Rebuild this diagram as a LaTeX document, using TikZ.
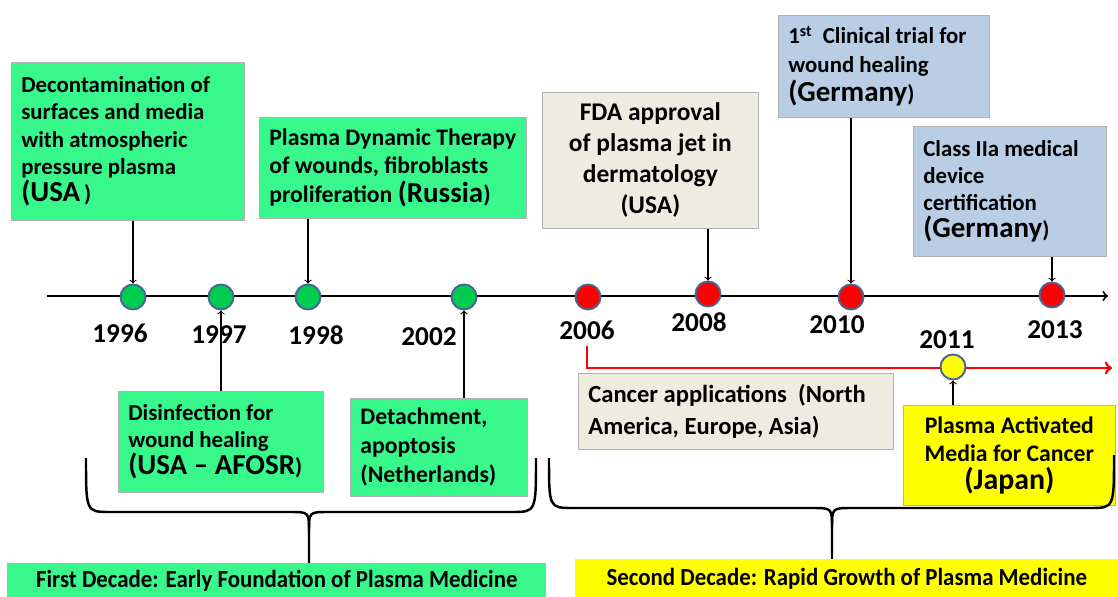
\documentclass[tikz,border=0pt]{standalone}
\usepackage{fontspec}
\setmainfont{Carlito}
\usetikzlibrary{positioning}
\definecolor{evgreen}{RGB}{56,248,140}
\definecolor{dotgreen}{RGB}{0,204,80}
\definecolor{dotedge}{RGB}{70,100,150}
\definecolor{beige}{RGB}{238,236,225}
\definecolor{skyblue}{RGB}{185,205,228}
\definecolor{lemon}{RGB}{255,255,0}
\newcommand{\cty}[1]{{\fontsize{16.5}{19}\selectfont #1}}
\tikzset{
  event/.style={draw=gray!60, anchor=north west, inner xsep=0.2cm, align=flush left,
    font=\fontsize{13}{15.5}\selectfont\bfseries},
  dot/.style={circle, draw=dotedge, line width=1.1pt, minimum size=0.5cm, inner sep=0pt},
  year/.style={font=\fontsize{15.5}{18}\selectfont\bfseries},
  link/.style={semithick, ->},
  brace/.style={line width=1.4pt},
  decade/.style={anchor=north west, inner sep=0pt, font=\fontsize{14}{16}\selectfont\bfseries},
}
\begin{document}
\begin{tikzpicture}[x=0.02cm, y=-0.02cm]
    \useasboundingbox (0,0) rectangle (1118,597);
    % time axis
    \coordinate (t0) at (47,296);
    \coordinate (t1) at (1108,296);
    \draw[line width=1.1pt, ->] (t0) -- (t1);

    % event boxes above the axis
    \node[event, fill=evgreen, minimum width=4.66cm, minimum height=3.16cm, text width=4.26cm] (dec) at (11,62)
        {Decontamination of\\ surfaces and media\\ with atmospheric\\ pressure plasma\\ \cty{(USA}\,)};
    \node[event, fill=evgreen, minimum width=5.34cm, minimum height=2.02cm, text width=4.94cm,
        font=\fontsize{13.5}{16}\selectfont\bfseries] (pdt) at (259,117)
        {Plasma Dynamic Therapy\\ of wounds, fibroblasts\\ proliferation \cty{(Russia})};
    \node[event, fill=beige, minimum width=4.32cm, minimum height=2.72cm, text width=3.92cm, align=flush center,
        font=\fontsize{14.5}{17.6}\selectfont\bfseries] (fda) at (542,92)
        {FDA approval\\ of plasma jet in\\ dermatology\\ (USA)};
    \node[event, fill=skyblue, minimum width=4.22cm, minimum height=2.04cm, text width=3.82cm,
        font=\fontsize{13}{16.5}\selectfont\bfseries] (trial) at (778,15)
        {1\textsuperscript{st}\ \ Clinical trial for\\ wound healing\\ \cty{(Germany})};
    \node[event, fill=skyblue, minimum width=3.86cm, minimum height=2.6cm, text width=3.46cm] (cert) at (913,126)
        {Class IIa medical\\ device\\ certification\\ \cty{(Germany})};

    % event boxes below the axis
    \node[event, fill=evgreen, minimum width=4.1cm, minimum height=2.02cm, text width=3.7cm] (dis) at (118,391)
        {Disinfection for\\ wound healing\\ \cty{(USA -- AFOSR})};
    \node[event, fill=evgreen, minimum width=3.54cm, minimum height=1.96cm, text width=3.14cm,
        font=\fontsize{13.5}{16.5}\selectfont\bfseries] (det) at (350,398)
        {Detachment,\\ apoptosis\\ (Netherlands)};
    \node[event, fill=beige, minimum width=6.3cm, minimum height=1.52cm, text width=5.9cm,
        font=\fontsize{14}{18}\selectfont\bfseries] (can) at (578,373)
        {Cancer applications\ \ (North\\ America, Europe, Asia)};
    \node[event, fill=lemon, minimum width=4.24cm, minimum height=2.0cm, text width=3.84cm, align=flush center,
        font=\fontsize{13.5}{16}\selectfont\bfseries] (pam) at (903,405)
        {Plasma Activated\\ Media for Cancer\\ {\fontsize{17}{20}\selectfont (Japan)}};

    % dots on the axis
    \node[dot, fill=dotgreen] (d96) at (133,297) {};
    \node[dot, fill=dotgreen] (d97) at (221,297) {};
    \node[dot, fill=dotgreen] (d98) at (308,297) {};
    \node[dot, fill=dotgreen] (d02) at (464,297) {};
    \node[dot, fill=red] (d06) at (588,297) {};
    \node[dot, fill=red] (d08) at (708,294) {};
    \node[dot, fill=red] (d10) at (851,297) {};
    \node[dot, fill=red] (d13) at (1052,295) {};

    % years
    \node[year] (y96) at (120,333) {1996};
    \node[year] (y97) at (219,335) {1997};
    \node[year] (y98) at (316,335) {1998};
    \node[year] (y02) at (429,337) {2002};
    \node[year] (y06) at (587,330) {2006};
    \node[year] (y08) at (699,322) {2008};
    \node[year] (y10) at (837,325) {2010};
    \node[year] (y13) at (1055,330) {2013};
    \node[year] (y11) at (947,340) {2011};

    % cancer line
    \coordinate (cend) at (1112,368);
    \draw[red, line width=1.6pt, ->] (y06.south) |- (cend);
    \node[dot, fill=lemon] (d11) at (953,367) {};

    % arrows
    \draw[link] (dec.south -| d96) -- (d96);
    \draw[link] (pdt.south -| d98) -- (d98);
    \draw[link] (fda.south -| d08) -- (d08);
    \draw[link] (trial.south -| d10) -- (d10);
    \draw[link] (cert.south -| d13) -- (d13);
    \draw[link] (dis.north -| d97) -- (d97);
    \draw[link] (det.north -| d02) -- (d02);
    \draw[link] (pam.north -| d11) -- (d11);

    % braces
    \draw[brace] (86,458) .. controls (86,512) .. (110,512) -- (290,512) .. controls (309,512) .. (309,532) -- (309,563);
    \draw[brace] (536,458) .. controls (536,512) .. (512,512) -- (328,512) .. controls (309,512) .. (309,532);
    \draw[brace] (549,458) .. controls (549,508) .. (573,508) -- (812,508) .. controls (832,508) .. (832,528) -- (832,559);
    \draw[brace] (1114,455) .. controls (1114,508) .. (1090,508) -- (852,508) .. controls (832,508) .. (832,528);

    % decades
    \node[decade, fill=evgreen, minimum width=10.78cm, minimum height=0.68cm] (dec1) at (7,563)
        {\scalebox{0.93}[1]{First Decade: Early Foundation of Plasma Medicine}};
    \node[decade, fill=lemon, minimum width=10.86cm, minimum height=0.76cm] (dec2) at (575,559)
        {\scalebox{0.93}[1]{Second Decade: Rapid Growth of Plasma Medicine}};
\end{tikzpicture}
\end{document}
